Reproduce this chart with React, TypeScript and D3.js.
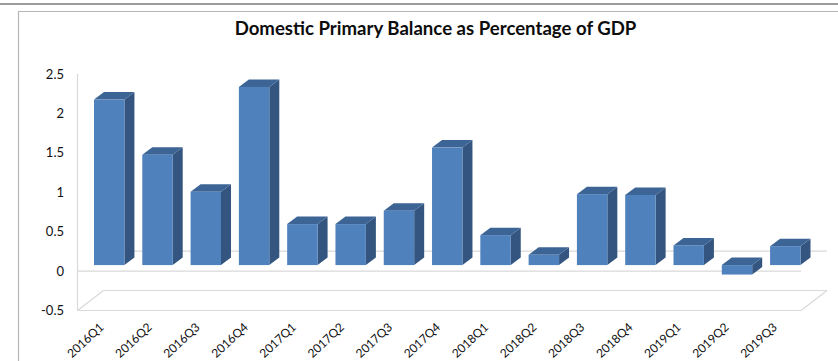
import React from "react";
import * as d3 from "d3";

const quarters = ["2016Q1","2016Q2","2016Q3","2016Q4","2017Q1","2017Q2","2017Q3","2017Q4","2018Q1","2018Q2","2018Q3","2018Q4","2019Q1","2019Q2","2019Q3"];
const balance = [2.1,1.4,0.93,2.26,0.52,0.52,0.69,1.49,0.38,0.13,0.9,0.89,0.25,-0.12,0.24];
const yTicks = [-0.5,0,0.5,1,1.5,2,2.5];
const yTickLabels = ["-0.5","0","0.5","1","1.5","2","2.5"];
const title = "Domestic Primary Balance as Percentage of GDP";

const WIDTH = 838;
const HEIGHT = 361;
const FONT = "Lato, 'Open Sans', sans-serif";
const GRID = "#d9d9d9";

// Front plane of the pseudo-3D box
const yFront = d3.scaleLinear().domain([-0.5, 2.5]).range([310.5, 74]);
const xBand = d3.scaleBand<string>().domain(quarters).range([94, 800.5]).paddingInner(0.37).paddingOuter(0);

// Offsets of the back wall and of the bar depth
const WALL_DX = 26;
const WALL_DY = -20;
const BAR_DX = 10;
const BAR_DY = -7.5;
const BAR_PLANE_DY = -6;

const poly = (pts: [number, number][]) => pts.map((p) => p.join(",")).join(" ");

export default function App() {
  const y0 = yFront(0);
  const yMin = yFront(-0.5);
  const xL = 77.5;
  const xR = 801;
  return (
    <svg
      width={WIDTH}
      height={HEIGHT}
      viewBox={`0 0 ${WIDTH} ${HEIGHT}`}
      style={{ position: "absolute", left: 0, top: 0, background: "#fff" }}
    >
      <line x1={0} x2={WIDTH} y1={4} y2={4} stroke="#3a3a3a" strokeWidth={1.2} />
      <path d={`M18.5 ${HEIGHT} V11.5 H${WIDTH}`} fill="none" stroke="#b5b5b5" strokeWidth={1.2} />

      <text x={435.5} y={35} textAnchor="middle" fontFamily={FONT} fontWeight={700} fontSize={18.6} fill="#0d0d0d">
        {title}
      </text>

      {/* Floor, back-wall baseline and axis lines */}
      <g fill="none" stroke={GRID} strokeWidth={1.2}>
        <line x1={xL} x2={xL} y1={yFront(2.5)} y2={yMin} />
        <line x1={xL} x2={xR} y1={y0} y2={y0} />
        <line x1={xL} x2={xR} y1={yMin} y2={yMin} />
        <line x1={xL + WALL_DX} x2={xR + WALL_DX} y1={yMin + WALL_DY} y2={yMin + WALL_DY} />
        <line x1={xL + WALL_DX} x2={xR + WALL_DX} y1={y0 + WALL_DY} y2={y0 + WALL_DY} />
        <line x1={xL} x2={xL + WALL_DX} y1={yMin} y2={yMin + WALL_DY} />
        <line x1={xR} x2={xR + WALL_DX} y1={yMin} y2={yMin + WALL_DY} />
      </g>

      {yTicks.map((t, i) => (
        <text key={t} x={64} y={yFront(t) + 4.5} textAnchor="end" fontFamily={FONT} fontSize={13} fill="#111">
          {yTickLabels[i]}
        </text>
      ))}

      {/* Bars: side, top and front faces */}
      {quarters.map((q, i) => {
        const x = xBand(q) as number;
        const w = xBand.bandwidth();
        const top = yFront(Math.max(balance[i], 0)) + BAR_PLANE_DY;
        const bottom = yFront(Math.min(balance[i], 0)) + BAR_PLANE_DY;
        return (
          <g key={q}>
            <polygon
              fill="#33557f"
              points={poly([[x + w, top], [x + w + BAR_DX, top + BAR_DY], [x + w + BAR_DX, bottom + BAR_DY], [x + w, bottom]])}
            />
            <polygon
              fill="#3c6595"
              points={poly([[x, top], [x + BAR_DX, top + BAR_DY], [x + w + BAR_DX, top + BAR_DY], [x + w, top]])}
            />
            <rect x={x} y={top} width={w} height={bottom - top} fill="#4f81bd" />
          </g>
        );
      })}

      {quarters.map((q, i) => {
        const anchorX = (xBand(q) as number) + xBand.bandwidth() - 22 - i * 0.2;
        return (
          <text
            key={q}
            transform={`translate(${anchorX},326) rotate(-43)`}
            textAnchor="end"
            dominantBaseline="middle"
            fontFamily={FONT}
            fontSize={12}
            fill="#111"
          >
            {q}
          </text>
        );
      })}
    </svg>
  );
}
